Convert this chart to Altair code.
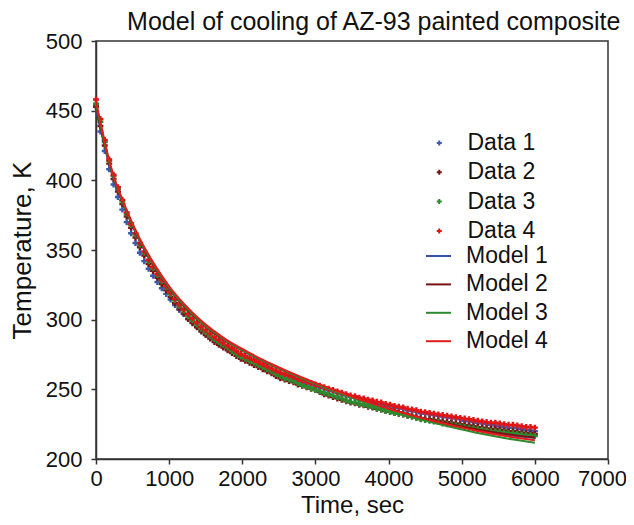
import altair as alt
import pandas as pd

FONT = "Liberation Sans"

TIME_DATA = list(range(0, 6001, 60))
DATA_1 = [453, 435, 421, 408, 397, 388, 379, 370, 362, 355,
          348, 342, 336.5, 331.5, 327, 322.5, 318.5, 314.5, 310.5, 307,
          304, 300.5, 298, 295, 292.5, 290, 288, 285.5, 283.5, 281.5,
          280, 278, 276, 274, 273, 271.5, 270, 268.5, 267, 265.5,
          264, 262.5, 261, 260, 259, 258, 256.5, 255.5, 254.5, 253.5,
          252.5, 251.5, 250.5, 249.5, 248.5, 247.5, 246.5, 245.5, 244.5, 244,
          243, 242.5, 241.5, 241, 240, 239.5, 238.5, 238, 237, 236.5,
          236, 235, 234.5, 234, 233, 232.5, 232, 231.5, 231, 230.5,
          230, 229.5, 229, 228.5, 227.5, 227, 226.5, 226, 225.5, 225,
          224.5, 224, 223.5, 223, 222.5, 222.5, 222, 221.5, 221, 220.5,
          220]
DATA_2 = [453, 439, 425, 412, 401, 392, 383, 374, 366, 359,
          352, 346, 340, 335, 330, 325.5, 321, 316.5, 312, 308,
          304.5, 300.5, 297.5, 294.5, 291.5, 289, 286.5, 284, 282, 280,
          278, 276, 274, 272, 270.5, 269, 267.5, 266, 264.5, 263,
          261.5, 259.5, 258, 257, 256, 255, 253.5, 252.5, 251.5, 250.5,
          249.5, 248, 246.5, 245.5, 244.5, 243.5, 242.5, 241.5, 240.5, 240,
          239, 238.5, 237.5, 237, 236, 235.5, 234.5, 234, 233, 232.5,
          232, 231, 230.5, 230, 229, 228.5, 228.5, 228, 227.5, 227,
          226.5, 226, 225.5, 225, 224.5, 224, 223.5, 223, 222.5, 222,
          221.5, 221.5, 221, 220.5, 220, 220, 219.5, 219, 218.5, 218.5,
          218]
DATA_3 = [455, 442, 427.5, 414, 403, 394, 385, 376, 368, 361,
          354, 348, 342, 337, 332, 327.5, 323, 318.5, 314, 310,
          306.5, 302.5, 299.5, 296.5, 293.5, 291, 288.5, 286, 284, 282,
          280, 277.5, 275.5, 273.5, 272, 270.5, 269, 267.5, 266, 264.5,
          263, 261, 259.5, 258, 257, 256, 254.5, 253, 252, 251,
          249.5, 248.5, 247.5, 246.5, 245.5, 244.5, 243.5, 242, 241, 240.5,
          239.5, 239, 238, 237.5, 236.5, 235.5, 234.5, 234, 233, 232.5,
          232, 231, 230.5, 229.5, 228.5, 228, 227.5, 227, 226.5, 225.5,
          225, 224.5, 224, 223.5, 223, 222.5, 222, 221.5, 221, 220.5,
          220, 220, 219.5, 219, 218.5, 218.5, 218, 217.5, 217, 217,
          216.5]
DATA_4 = [458, 444, 429, 415, 404, 395, 386, 377, 369, 362,
          355, 349, 343, 338, 333, 328.5, 324, 319.5, 315, 311,
          307.5, 304, 301, 298, 295, 292.5, 290, 287.5, 285.5, 283.5,
          281.5, 279.5, 277.5, 275.5, 274, 272.5, 271, 269.5, 268, 266.5,
          265, 263.5, 262, 261, 260, 259, 257.5, 256.5, 255.5, 254.5,
          253.5, 252.5, 251.5, 250.5, 249.5, 248.5, 247.5, 246.5, 245.5, 245,
          244, 243.5, 242.5, 242, 241, 240.5, 239.5, 239, 238, 237.5,
          237, 236, 235.5, 235, 234, 233.5, 233, 232.5, 232, 231.5,
          231, 230.5, 230, 229.5, 229, 228.5, 228, 227.5, 227, 226.5,
          226, 226, 225.5, 225, 224.5, 224.5, 224, 223.5, 223, 223,
          222.5]

TIME_MODEL = list(range(0, 6001, 200))
MODEL_1 = [451, 408, 379.5, 356.5, 338, 322.5, 310, 299.5, 291, 284,
           278, 272.5, 267.5, 262.8, 258.4, 254.2, 250.2, 246.3, 242.6, 239.2,
           236, 232.9, 230.1, 227.5, 225.1, 222.9, 220.9, 219.1, 217.5, 216.1,
           215]
MODEL_2 = [453, 408.5, 379.5, 356.5, 338, 322.5, 310, 299.5, 291, 284,
           278, 272.5, 267.5, 262.8, 258.4, 254.2, 250.2, 246.3, 242.7, 239.3,
           236.2, 233.2, 230.4, 227.9, 225.5, 223.4, 221.4, 219.6, 218, 216.6,
           215.5]
MODEL_3 = [455, 409, 380, 357, 338.5, 323, 310.5, 300, 291.5, 284.3,
           278.2, 272.6, 267.5, 262.7, 258.2, 253.9, 249.8, 245.8, 242, 238.5,
           235.2, 232, 229, 226.2, 223.6, 221.2, 218.9, 216.8, 214.9, 213.2,
           211.7]
MODEL_4 = [457, 410.5, 381, 358, 339.5, 324, 311.5, 301, 292.3, 285,
           279, 273.3, 268.2, 263.4, 258.9, 254.6, 250.5, 246.6, 242.9, 239.4,
           236.1, 233, 230.1, 227.4, 224.9, 222.5, 220.3, 218.3, 216.5, 214.9,
           213.5]

DATA_NAMES = ["Data 1", "Data 2", "Data 3", "Data 4"]
MODEL_NAMES = ["Model 1", "Model 2", "Model 3", "Model 4"]
DATA_COLORS = ["#3A5BAE", "#7A1414", "#2E8A2E", "#E01414"]
MODEL_COLORS = ["#3552A8", "#7A1414", "#2F8A2F", "#E31B1B"]

X_TICKS = [0, 1000, 2000, 3000, 4000, 5000, 6000, 7000]
Y_TICKS = [200, 250, 300, 350, 400, 450, 500]

rows = []
for name, vals in zip(DATA_NAMES, [DATA_1, DATA_2, DATA_3, DATA_4]):
    for t, v in zip(TIME_DATA, vals):
        rows.append({"time": t, "temp": v, "series": name})
df_data = pd.DataFrame(rows)

rows = []
for name, vals in zip(MODEL_NAMES, [MODEL_1, MODEL_2, MODEL_3, MODEL_4]):
    for t, v in zip(TIME_MODEL, vals):
        rows.append({"time": t, "temp": v, "model": name})
df_model = pd.DataFrame(rows)

x_enc = alt.X("time:Q", title="Time, sec",
              scale=alt.Scale(domain=[0, 7000], nice=False),
              axis=alt.Axis(values=X_TICKS, format="d", labelFlush=False, labelOverlap=False,
                            labelOffset={"condition": {"test": "datum.value == 7000", "value": -6},
                                         "value": 0},
                            tickSize=5, labelPadding=4, titlePadding=4,
                            labelFontSize=22, titleFontSize=24))
y_enc = alt.Y("temp:Q", title="Temperature, K",
              scale=alt.Scale(domain=[200, 500], nice=False, zero=False),
              axis=alt.Axis(values=Y_TICKS, format="d", labelFlush=False, labelOverlap=False,
                            tickSize=5, labelPadding=9, titlePadding=10,
                            labelFontSize=22, titleFontSize=26))

points = alt.Chart(df_data).mark_point(shape="cross", filled=True, size=36, opacity=1).encode(
    x=x_enc,
    y=y_enc,
    color=alt.Color("series:N",
                    scale=alt.Scale(domain=DATA_NAMES, range=DATA_COLORS),
                    legend=alt.Legend(orient="none", legendX=331.75, legendY=90.5,
                                      title=None, padding=0, labelFontSize=23,
                                      labelFont=FONT, labelColor="#111",
                                      symbolSize=25, symbolType="cross",
                                      labelOffset=16.75, rowPadding=5.3)),
    order=alt.Order("series:N"),
)

lines = alt.Chart(df_model).mark_line(strokeWidth=2, interpolate="monotone").encode(
    x=alt.X("time:Q"),
    y=alt.Y("temp:Q"),
    color=alt.Color("model:N",
                    scale=alt.Scale(domain=MODEL_NAMES, range=MODEL_COLORS),
                    legend=alt.Legend(orient="none", legendX=329, legendY=201.5,
                                      title=None, padding=0, labelFontSize=23,
                                      labelFont=FONT, labelColor="#111",
                                      symbolSize=625, symbolStrokeWidth=2,
                                      labelOffset=14, rowPadding=2.4)),
)

chart = alt.layer(points, lines).resolve_scale(color="independent").properties(
    width=512,
    height=418,
    padding={"left": 88, "top": 33, "right": 18, "bottom": 58},
    autosize="none",
    title=alt.TitleParams("Model of cooling of AZ-93 painted composite",
                          font=FONT, fontSize=25, fontWeight="normal",
                          anchor="end", dx=-6, dy=25, offset=0, baseline="alphabetic",
                          color="#111"),
).configure_view(
    stroke="#333", strokeWidth=1.5
).configure_axis(
    grid=False, domainColor="#333", domainWidth=1.5, tickColor="#333", tickWidth=1.5,
    labelFont=FONT, titleFont=FONT, labelColor="#111", titleColor="#111",
    titleFontWeight="normal"
)

chart.save("out.html", embed_options={"renderer": "svg", "actions": False})
